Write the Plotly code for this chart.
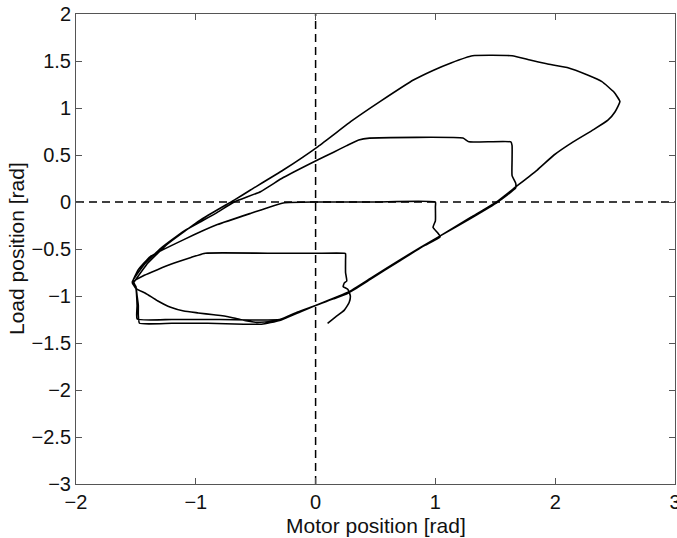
import plotly.graph_objects as go

# Motor / load position trajectory, split into the successive swings
# (each swing returns to the turning point near motor = -1.5 rad).
swing1_motor = [0.10, 0.17, 0.24, 0.28, 0.29, 0.27, 0.23, 0.24, 0.26, 0.25, 0.25, 0.25, 0.24,
                0.00, -0.40, -0.92, -1.04, -1.18, -1.32, -1.43, -1.52]
swing1_load = [-1.29, -1.22, -1.15, -1.07, -1.00, -0.93, -0.90, -0.86, -0.84, -0.75, -0.62, -0.55, -0.545,
               -0.545, -0.545, -0.545, -0.59, -0.65, -0.72, -0.78, -0.85]

swing2_motor = [-1.50, -1.49, -1.48, -1.48, -1.47, -1.20, -0.90, -0.60, -0.45, -0.30, -0.15, 0.00, 0.15,
                0.27, 0.46, 0.71, 0.90, 1.04, 1.02, 0.98, 1.00, 1.00, 1.00, 0.50, 0.00, -0.27,
                -0.54, -0.82, -1.10, -1.38, -1.48, -1.53]
swing2_load = [-0.90, -1.00, -1.10, -1.20, -1.29, -1.29, -1.29, -1.30, -1.30, -1.26, -1.18, -1.10, -1.03,
               -0.97, -0.82, -0.62, -0.47, -0.37, -0.33, -0.27, -0.20, -0.05, 0.00, 0.00, 0.00, -0.01,
               -0.12, -0.24, -0.40, -0.58, -0.72, -0.86]

swing3_motor = [-1.50, -1.49, -1.49, -1.20, -0.80, -0.55, -0.30, -0.15, 0.00, 0.27, 0.46, 0.71, 1.04,
                1.30, 1.52, 1.67, 1.67, 1.64, 1.64, 1.64, 1.63, 1.28, 1.23, 0.45, 0.36, 0.26, 0.15, 0.02,
                -0.27, -0.46, -0.68, -0.82, -0.96, -1.10, -1.29, -1.42, -1.53]
swing3_load = [-0.92, -1.10, -1.245, -1.25, -1.25, -1.255, -1.25, -1.17, -1.10, -0.96, -0.81, -0.61, -0.36,
               -0.17, 0.00, 0.15, 0.20, 0.28, 0.45, 0.60, 0.64, 0.64, 0.68, 0.68, 0.66, 0.60, 0.53, 0.45,
               0.26, 0.11, 0.00, -0.11, -0.21, -0.31, -0.49, -0.65, -0.85]

swing4_motor = [-1.50, -1.42, -1.32, -1.21, -1.10, -0.98, -0.85, -0.73, -0.63, -0.50, -0.35, -0.25, -0.10,
                0.00, 0.27, 0.46, 0.71, 1.04, 1.30, 1.52, 1.67, 1.85, 1.99, 2.15, 2.32, 2.44, 2.50,
                2.54, 2.49, 2.39, 2.27, 2.10, 1.93, 1.79, 1.64, 1.31, 1.13, 0.98, 0.82, 0.54, 0.31,
                0.02, -0.27, -0.54, -0.68, -0.96, -1.23, -1.40, -1.52]
swing4_load = [-0.92, -0.97, -1.05, -1.12, -1.16, -1.18, -1.20, -1.22, -1.25, -1.28, -1.27, -1.23, -1.15,
               -1.10, -0.96, -0.81, -0.61, -0.36, -0.16, 0.01, 0.16, 0.34, 0.50, 0.64, 0.77, 0.87, 0.96,
               1.07, 1.17, 1.28, 1.35, 1.43, 1.47, 1.51, 1.556, 1.556, 1.48, 1.40, 1.30, 1.07, 0.87,
               0.59, 0.34, 0.13, 0.02, -0.19, -0.44, -0.65, -0.86]

motor_pos = swing1_motor + swing2_motor + swing3_motor + swing4_motor
load_pos = swing1_load + swing2_load + swing3_load + swing4_load

x_ticks = [-2, -1, 0, 1, 2, 3]
y_ticks = [-3, -2.5, -2, -1.5, -1, -0.5, 0, 0.5, 1, 1.5, 2]

FONT = "Liberation Sans, Arial, Helvetica, sans-serif"
TEXT = "#111111"
FRAME = "#555555"

fig = go.Figure()
fig.add_trace(go.Scatter(
    x=motor_pos, y=load_pos, mode="lines",
    line=dict(color="black", width=1.6, shape="spline", smoothing=0.4),
    showlegend=False, hoverinfo="skip",
))

# zero reference lines
fig.add_hline(y=0, line=dict(color="black", width=1.5, dash="8px,5px"), layer="below")
fig.add_vline(x=0, line=dict(color="black", width=1.5, dash="8px,5px"), layer="below")

axis_common = dict(
    showgrid=False, zeroline=False,
    showline=True, linecolor=FRAME, linewidth=1, mirror="ticks",
    ticks="inside", ticklen=6, tickwidth=1, tickcolor=FRAME,
    tickfont=dict(family=FONT, size=20, color=TEXT),
    ticklabeloverflow="allow", automargin=False,
)
fig.update_xaxes(range=[-2, 3], tickvals=x_ticks, **axis_common)
fig.update_yaxes(range=[-3, 2], tickvals=y_ticks, **axis_common)

fig.add_annotation(
    text="Motor position [rad]", xref="paper", yref="paper", x=0.5, y=0,
    xanchor="center", yanchor="middle", yshift=-41, showarrow=False,
    font=dict(family=FONT, size=21, color=TEXT),
)
fig.add_annotation(
    text="Load position [rad]", xref="paper", yref="paper", x=0, y=0.5,
    xanchor="center", yanchor="middle", xshift=-60, textangle=-90, showarrow=False,
    font=dict(family=FONT, size=21, color=TEXT),
)

fig.update_layout(
    width=677, height=538,
    margin=dict(l=76, r=2, t=14, b=54, autoexpand=False),
    paper_bgcolor="white", plot_bgcolor="white",
    showlegend=False,
)

fig.write_html("out.html")
